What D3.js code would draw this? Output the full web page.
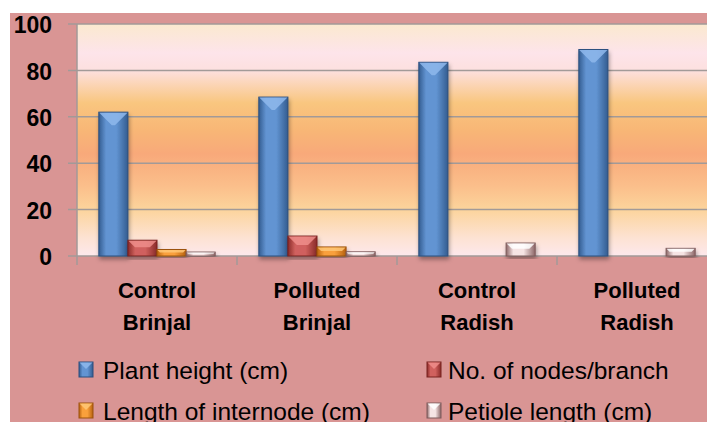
<!doctype html>
<html>
<head>
<meta charset="utf-8">
<script src="https://d3js.org/d3.v7.min.js"></script>
<style>
  html, body { margin: 0; padding: 0; background: #fff; }
  svg { display: block; }
  text { font-family: "Liberation Sans", Arial, sans-serif; fill: #000; }
</style>
</head>
<body>
<div id="chart"></div>
<script>
// values
const categories = ["Control Brinjal", "Polluted Brinjal", "Control Radish", "Polluted Radish"];
const series = ["Plant height (cm)", "No. of nodes/branch", "Length of internode (cm)", "Petiole length (cm)"];
const plantHeight = [62, 68.5, 83.5, 89];
const nodesPerBranch = [6.8, 8.6, 0, 0];
const internodeLength = [2.8, 3.9, 0, 0];
const petioleLength = [1.7, 1.8, 5.6, 3.3];
const yTicks = [0, 20, 40, 60, 80, 100];

const values = [plantHeight, nodesPerBranch, internodeLength, petioleLength];
const colors = [
  {edge: "#345d91", mid: "#6294d2", stroke: "#2b4f7e", bevel: "#8fb8ec"},
  {edge: "#8a2b29", mid: "#d0615e", stroke: "#78221f", bevel: "#ee8e8b"},
  {edge: "#b8620f", mid: "#f9a03c", stroke: "#9c520c", bevel: "#ffc777"},
  {edge: "#8c6667", mid: "#f6e4e4", stroke: "#7d5a5b", bevel: "#ffffff"}
];

const W = 707, H = 422;
const plotLeft = 77, plotTop = 24, plotBottom = 256;

const svg = d3.select("#chart").append("svg").attr("width", W).attr("height", H);
const defs = svg.append("defs");

const bg = defs.append("linearGradient").attr("id", "plotbg")
  .attr("x1", 0).attr("y1", 0).attr("x2", 0).attr("y2", 1);
[[0, "#fbe9cf"], [0.125, "#fde4ea"], [0.2, "#fde0df"], [0.34, "#f9c67f"],
 [0.46, "#f8b676"], [0.56, "#f8a97a"], [0.7, "#fbbf8b"], [0.8, "#fcd49c"],
 [0.92, "#fde2d2"], [1, "#fde8ec"]]
  .forEach(s => bg.append("stop").attr("offset", s[0]).attr("stop-color", s[1]));

colors.forEach((c, i) => {
  const g = defs.append("linearGradient").attr("id", "bar" + i)
    .attr("x1", 0).attr("y1", 0).attr("x2", 1).attr("y2", 0);
  g.append("stop").attr("offset", 0).attr("stop-color", c.edge);
  g.append("stop").attr("offset", 0.25).attr("stop-color", c.mid);
  g.append("stop").attr("offset", 0.6).attr("stop-color", c.mid);
  g.append("stop").attr("offset", 1).attr("stop-color", c.edge);
});

const shadow = defs.append("filter").attr("id", "shadow")
  .attr("x", "-30%").attr("y", "-10%").attr("width", "160%").attr("height", "130%");
shadow.append("feDropShadow").attr("dx", 1).attr("dy", 3).attr("stdDeviation", 2)
  .attr("flood-color", "#000").attr("flood-opacity", 0.35);

// backgrounds
svg.append("rect").attr("x", 10).attr("y", 13).attr("width", W - 10).attr("height", H - 13)
  .attr("fill", "#d99594");

const x = d3.scaleBand().domain(categories).range([plotLeft, plotLeft + 640]).padding(0);
const xs = d3.scaleBand().domain(d3.range(4)).range([0, x.bandwidth()])
  .paddingInner(0).paddingOuter(0.75);
const y = d3.scaleLinear().domain([0, 100]).range([plotBottom, plotTop]);

svg.append("rect").attr("x", plotLeft).attr("y", plotTop)
  .attr("width", W - plotLeft).attr("height", plotBottom - plotTop)
  .attr("fill", "url(#plotbg)");

// gridlines
svg.append("g").selectAll("line").data(yTicks).join("line")
  .attr("x1", plotLeft - 9).attr("x2", W)
  .attr("y1", d => y(d)).attr("y2", d => y(d))
  .attr("stroke", "#a29a98").attr("stroke-width", 1.5);

// y axis
const yAxis = svg.append("g").attr("transform", `translate(${plotLeft},0)`)
  .call(d3.axisLeft(y).tickValues(yTicks).tickSize(0).tickPadding(25));
yAxis.select(".domain").remove();
yAxis.selectAll("text").attr("font-size", 23).attr("font-weight", "bold")
  .attr("font-family", "'Liberation Sans', Arial, sans-serif").attr("fill", "#000")
  .attr("dy", "0.38em");

svg.append("line").attr("x1", plotLeft).attr("x2", plotLeft)
  .attr("y1", plotTop).attr("y2", plotBottom + 9)
  .attr("stroke", "#a29a98").attr("stroke-width", 1.5);

// category separators
svg.append("g").selectAll("line").data(categories.slice(1)).join("line")
  .attr("x1", d => x(d)).attr("x2", d => x(d))
  .attr("y1", plotBottom).attr("y2", plotBottom + 9)
  .attr("stroke", "#a29a98").attr("stroke-width", 1.5);

// bars
const bars = [];
categories.forEach((c, ci) => values.forEach((vals, si) => {
  if (vals[ci] > 0) bars.push({c, si, v: vals[ci]});
}));

const barG = svg.append("g").selectAll("g").data(bars).join("g")
  .attr("filter", "url(#shadow)");
barG.append("rect")
  .attr("x", d => x(d.c) + xs(d.si))
  .attr("y", d => y(d.v))
  .attr("width", xs.bandwidth())
  .attr("height", d => plotBottom - y(d.v))
  .attr("fill", d => `url(#bar${d.si})`)
  .attr("stroke", d => colors[d.si].stroke).attr("stroke-width", 1);
barG.append("path")
  .attr("d", d => {
    const x0 = x(d.c) + xs(d.si), w = xs.bandwidth(), y0 = y(d.v);
    const b = Math.min((plotBottom - y0) * 0.45, 13);
    return `M${x0 + 0.5},${y0 + 0.5}L${x0 + w - 0.5},${y0 + 0.5}L${x0 + w - b},${y0 + b}L${x0 + b},${y0 + b}Z`;
  })
  .attr("fill", d => colors[d.si].bevel).attr("opacity", 0.85);

// category labels
const catG = svg.append("g").selectAll("text").data(categories).join("text")
  .attr("x", d => x(d) + x.bandwidth() / 2)
  .attr("text-anchor", "middle")
  .attr("font-size", 22).attr("font-weight", "bold");
catG.each(function(d) {
  const parts = d.split(" ");
  d3.select(this).selectAll("tspan").data(parts).join("tspan")
    .attr("x", x(d) + x.bandwidth() / 2)
    .attr("y", (p, i) => 298 + i * 32)
    .text(p => p);
});

// legend (second row runs off the bottom edge, as in the source image)
const legendPos = [[79, 370], [427, 370], [79, 411], [427, 411]];
const lg = svg.append("g").selectAll("g").data(series).join("g")
  .attr("transform", (d, i) => `translate(${legendPos[i][0]},${legendPos[i][1]})`);
lg.append("rect").attr("x", 0).attr("y", -8).attr("width", 14).attr("height", 15)
  .attr("fill", (d, i) => `url(#bar${i})`)
  .attr("stroke", (d, i) => colors[i].stroke).attr("stroke-width", 1);
lg.append("path").attr("d", "M0.5,-7.5L13.5,-7.5L7,-1Z")
  .attr("fill", (d, i) => colors[i].bevel).attr("opacity", 0.85);
lg.append("text").attr("x", (d, i) => i % 2 ? 21 : 24).attr("y", 9)
  .attr("font-size", 24.5).text(d => d);
</script>
</body>
</html>
